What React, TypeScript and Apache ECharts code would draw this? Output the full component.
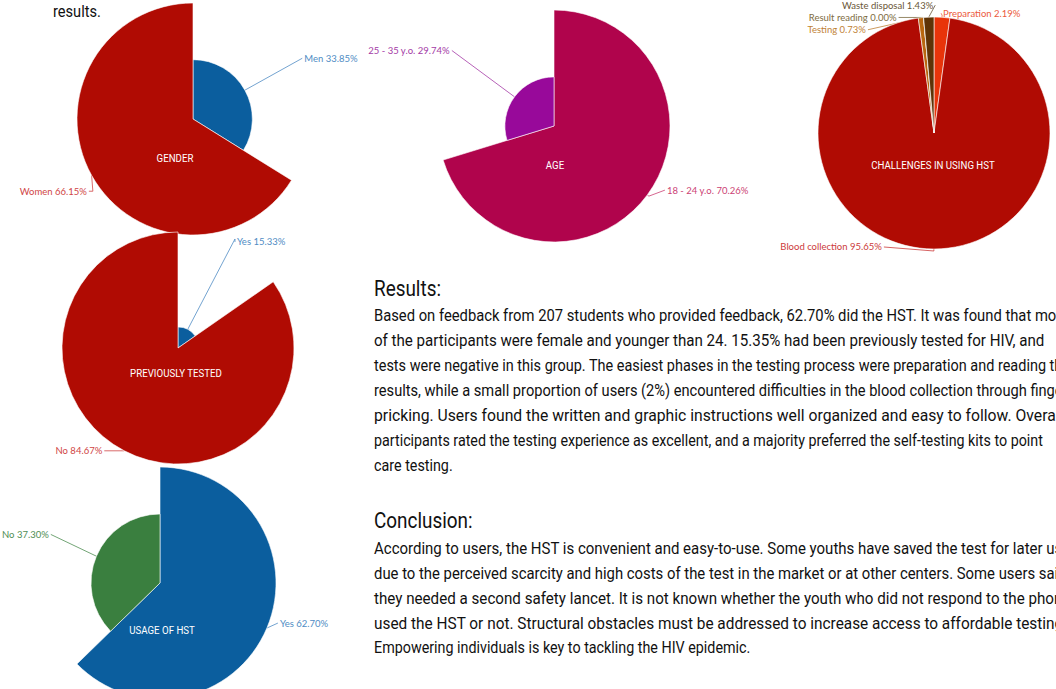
import React, { useEffect, useRef } from "react";
import * as echarts from "echarts";

// ---------- data ----------
const genderNames = ["Men", "Women"];
const genderValues = [33.85, 66.15];

const ageNames = ["18 - 24 y.o.", "25 - 35 y.o."];
const ageValues = [70.26, 29.74];

const challengeNames = ["Preparation", "Blood collection", "Testing", "Result reading", "Waste disposal"];
const challengeValues = [2.19, 95.65, 0.73, 0.0, 1.43];

const prevNames = ["Yes", "No"];
const prevValues = [15.33, 84.67];

const usageNames = ["Yes", "No"];
const usageValues = [62.7, 37.3];

const pieTitles = ["GENDER", "AGE", "CHALLENGES IN USING HST", "PREVIOUSLY TESTED", "USAGE OF HST"];

const topFragment = "results.";
const resultsHeading = "Results:";
const resultsLines = [
  "Based on feedback from 207 students who provided feedback, 62.70% did the HST. It was found that most",
  "of the participants were female and younger than 24. 15.35% had been previously tested for HIV, and",
  "tests were negative in this group. The easiest phases in the testing process were preparation and reading the",
  "results, while a small proportion of users (2%) encountered difficulties in the blood collection through finger",
  "pricking. Users found the written and graphic instructions well organized and easy to follow. Overall,",
  "participants rated the testing experience as excellent, and a majority preferred the self-testing kits to point",
  "care testing.",
];
const conclusionHeading = "Conclusion:";
const conclusionLines = [
  "According to users, the HST is convenient and easy-to-use. Some youths have saved the test for later use",
  "due to the perceived scarcity and high costs of the test in the market or at other centers. Some users said",
  "they needed a second safety lancet. It is not known whether the youth who did not respond to the phone",
  "used the HST or not. Structural obstacles must be addressed to increase access to affordable testing.",
  "Empowering individuals is key to tackling the HIV epidemic.",
];

// ---------- styles / layout ----------
const RED = "#B00B03";
const BLUE = "#0B5E9E";
const R = 116;
const TEXT_X = 374;
const BODY_FONT = "16px Roboto";
const BODY_SCALE = 0.895;
// right edge each justified line reaches (null = natural width, last line)
const resultsRight: (number | null)[] = [1069, 1045, 1070, 1068, 1067, 1044, null];
const conclusionRight: (number | null)[] = [1071, 1067, 1071, 1068, null];

type PieStyle = {
  center: [number, number];
  rose: boolean;
  colors: string[];
  labelColors: string[];
  lines: [number, number][];
  nudge: [number, number, number][]; // dx, dy, move middle point of guide line (1/0)
};

const genderStyle: PieStyle = {
  center: [193, 119],
  rose: true,
  colors: [BLUE, RED],
  labelColors: ["#4F8CC4", "#D04545"],
  lines: [[9, 0], [10, 4]],
  nudge: [[0, 0, 0], [10, 11, 1]],
};
const ageStyle: PieStyle = {
  center: [554, 126],
  rose: true,
  colors: ["#B0044C", "#98099A"],
  labelColors: ["#CC3F74", "#A43AA6"],
  lines: [[2, 12], [11, 0]],
  nudge: [[4, -6, 0], [0, 0, 0]],
};
const challengeStyle: PieStyle = {
  center: [934, 133],
  rose: false,
  colors: ["#E8340A", RED, "#B8660F", "#9A7A2A", "#5E3306"],
  labelColors: ["#EC5A3C", "#CC3A3A", "#BF8236", "#7E6C42", "#6A5636"],
  lines: [[2, 2], [2, 48], [0, 53], [0, 25], [12, 0]],
  nudge: [[-3, -2, 0], [-2, -4, 0], [0, 12, 0], [0, 0, 0], [7, 0, 1]],
};
const prevStyle: PieStyle = {
  center: [178, 348],
  rose: true,
  colors: [BLUE, RED],
  labelColors: ["#4F8CC4", "#D04545"],
  lines: [[7, 0], [0, 20]],
  nudge: [[0, 3, 0], [0, 0, 0]],
};
const usageStyle: PieStyle = {
  center: [160, 583],
  rose: true,
  colors: [BLUE, "#3A7F3F"],
  labelColors: ["#4F8CC4", "#4F8E53"],
  lines: [[0, 11], [9, 0]],
  nudge: [[0, -5, 0], [6, 0, 1]],
};

const titlePos: [number, number][] = [
  [175, 158],
  [555, 165],
  [933, 165],
  [176, 373],
  [162, 630],
];

function makePie(names: string[], values: number[], s: PieStyle) {
  return {
    type: "pie",
    center: s.center,
    radius: [0, R],
    roseType: s.rose ? "radius" : undefined,
    startAngle: 90,
    clockwise: true,
    avoidLabelOverlap: false,
    silent: true,
    emphasis: { disabled: true },
    itemStyle: { borderColor: "#ffffff", borderWidth: 0.6 },
    label: {
      show: true,
      position: "outside",
      fontFamily: "Lato",
      fontSize: 9.5,
      distanceToLabelLine: 2,
      formatter: (p: any) => `${p.name} ${Number(p.value).toFixed(2)}%`,
    },
    labelLine: { show: true, smooth: false },
    labelLayout: (p: any) => {
      const n = s.nudge[p.dataIndex] || [0, 0, 0];
      const r = p.labelRect;
      const out: any = {
        x: r.x + n[0],
        y: r.y + n[1],
        align: "left",
        verticalAlign: "top",
      };
      if (p.labelLinePoints && p.labelLinePoints.length === 3) {
        const pts = p.labelLinePoints;
        out.labelLinePoints = [
          [pts[0][0], pts[0][1]],
          [pts[1][0] + n[0] * n[2], pts[1][1] + n[1] * n[2]],
          [pts[2][0] + n[0], pts[2][1] + n[1]],
        ];
      }
      return out;
    },
    data: names.map((n, i) => ({
      name: n,
      value: values[i],
      itemStyle: { color: s.colors[i] },
      label: { color: s.labelColors[i] },
      labelLine: {
        length: s.lines[i][0],
        length2: s.lines[i][1],
        lineStyle: { color: s.labelColors[i], width: 0.8 },
      },
    })),
  };
}

let measureCtx: CanvasRenderingContext2D | null = null;
function measure(text: string, font: string) {
  if (!measureCtx) measureCtx = document.createElement("canvas").getContext("2d");
  if (!measureCtx) return text.length * 7;
  measureCtx.font = font;
  return measureCtx.measureText(text).width;
}

function textEl(text: string, x: number, y: number, font: string, fill: string, scaleX: number, align = "left") {
  return {
    type: "text",
    x,
    y,
    scaleX,
    silent: true,
    z: 10,
    style: {
      text,
      font,
      fill,
      align,
      textAlign: align,
      verticalAlign: "middle",
      textVerticalAlign: "middle",
    },
  };
}

function paragraph(lines: string[], rights: (number | null)[], y0: number, step: number) {
  return lines.map((l, i) => {
    const right = rights[i];
    let sx = BODY_SCALE;
    if (right != null) {
      const w = measure(l, BODY_FONT);
      sx = Math.min(1.0, Math.max(0.84, (right - TEXT_X) / w));
    }
    return textEl(l, TEXT_X, y0 + i * step, BODY_FONT, "#111111", sx);
  });
}

export default function App() {
  const ref = useRef<HTMLDivElement>(null);

  useEffect(() => {
    if (!ref.current) return;
    const chart = echarts.init(ref.current, undefined, { renderer: "svg" });

    const graphics: any[] = [];
    pieTitles.forEach((t, i) => {
      graphics.push(textEl(t, titlePos[i][0], titlePos[i][1], "11px Roboto", "#ffffff", 0.88, "center"));
    });
    graphics.push(textEl(topFragment, 53, 11, "17px Roboto", "#111111", 0.86));
    graphics.push(textEl(resultsHeading, TEXT_X, 288, "22px Roboto", "#111111", 0.86));
    graphics.push(...paragraph(resultsLines, resultsRight, 316, 24.9));
    graphics.push(textEl(conclusionHeading, TEXT_X, 520, "22px Roboto", "#111111", 0.86));
    graphics.push(...paragraph(conclusionLines, conclusionRight, 549, 24.8));

    chart.setOption({
      animation: false,
      backgroundColor: "#ffffff",
      series: [
        makePie(genderNames, genderValues, genderStyle),
        makePie(ageNames, ageValues, ageStyle),
        makePie(challengeNames, challengeValues, challengeStyle),
        makePie(prevNames, prevValues, prevStyle),
        makePie(usageNames, usageValues, usageStyle),
      ],
      graphic: { elements: graphics },
    });

    return () => chart.dispose();
  }, []);

  return (
    <div
      ref={ref}
      style={{ position: "absolute", left: 0, top: 0, width: 1056, height: 689, overflow: "hidden" }}
    />
  );
}
